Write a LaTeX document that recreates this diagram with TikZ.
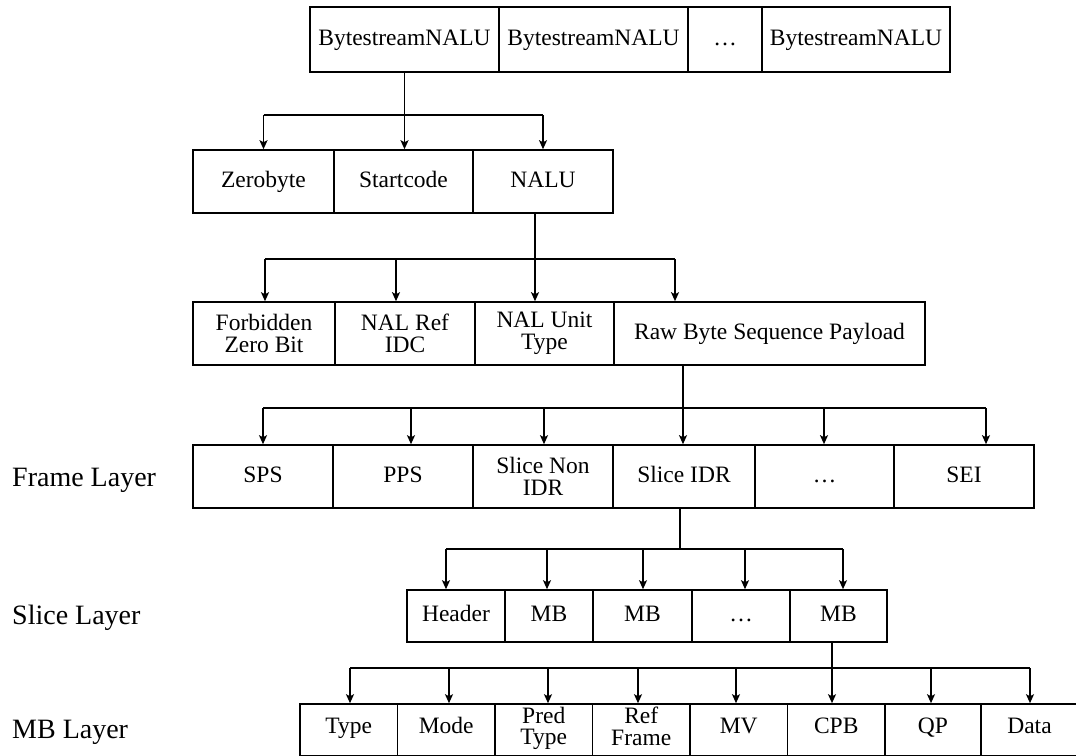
\documentclass[tikz,border=0pt]{standalone}
\usepackage{fontspec}
\setmainfont{Liberation Serif}
\usetikzlibrary{arrows.meta}
\begin{document}
\begin{tikzpicture}[x=1pt,y=-1pt,
  cell/.style={draw,line width=1.6pt,rectangle,inner sep=0pt,
    text height=16.5pt,text depth=5pt,
    font=\fontsize{23.5}{19}\selectfont},
  twoline/.style={draw,line width=1.6pt,rectangle,inner sep=0pt,align=center,
    font=\fontsize{23.5}{21.5}\selectfont},
  low/.style={text depth=9pt},
  wh/.style 2 args={minimum width=#1pt,minimum height=#2pt},
  ln/.style={line width=1.6pt},
  arr/.style={line width=1.6pt,-{Stealth[length=9pt,width=8pt,inset=2pt]}},
  layer/.style={anchor=west,inner sep=0pt,font=\fontsize{28}{30}\selectfont}]
\useasboundingbox (0,0) rectangle (1076,755);
\clip (0,0) rectangle (1076,755);

% Row 1
\node[cell,wh={189}{65}] (r1a) at (404.5,39.5) {BytestreamNALU};
\node[cell,wh={189}{65}] (r1b) at (593.5,39.5) {BytestreamNALU};
\node[cell,wh={74}{65}]  (r1c) at (725,39.5) {\ldots};
\node[cell,wh={188}{65}] (r1d) at (856,39.5) {BytestreamNALU};

% Row 2
\node[cell,wh={141}{63}] (zero)  at (263.5,181.5) {Zerobyte};
\node[cell,wh={139}{63}] (start) at (403.5,181.5) {Startcode};
\node[cell,wh={140}{63}] (nalu)  at (543,181.5) {NALU};

% Row 3
\node[twoline,wh={142}{63}] (fzb)  at (264,333.5) {Forbidden\\Zero Bit};
\node[twoline,wh={140}{63}] (nri)  at (405,333.5) {NAL Ref\\IDC};
\node[twoline,wh={139}{63}] (nut)  at (544.5,333.5) {NAL Unit\\Type};
\node[cell,wh={311}{63}] (rbsp) at (769.5,333.5) {Raw Byte Sequence Payload};

% Row 4
\node[cell,wh={140}{63}] (sps)   at (263,476.5) {SPS};
\node[cell,wh={140}{63}] (pps)   at (403,476.5) {PPS};
\node[twoline,wh={140}{63}] (snon)  at (543,476.5) {Slice Non\\IDR};
\node[cell,wh={142}{63}] (sidr)  at (684,476.5) {Slice IDR};
\node[cell,wh={139}{63}] (fdots) at (824.5,476.5) {\ldots};
\node[cell,wh={140}{63}] (sei)   at (964,476.5) {SEI};

% Row 5
\node[cell,wh={98}{52}] (hdr)   at (456,616) {Header};
\node[cell,wh={88}{52}] (mb1)   at (549,616) {MB};
\node[cell,wh={99}{52}] (mb2)   at (642.5,616) {MB};
\node[cell,wh={98}{52}] (sdots) at (741,616) {\ldots};
\node[cell,wh={97}{52}] (mb3)   at (838.5,616) {MB};

% Row 6
\node[cell,low,wh={97.5}{52}] (type) at (348.75,730) {Type};
\node[cell,low,wh={97.5}{52}] (mode) at (446.25,730) {Mode};
\node[twoline,wh={97.5}{52},text depth=8pt] (pred) at (543.75,730) {Pred\\Type};
\node[twoline,wh={97.5}{52},text depth=8pt] (refr) at (641.25,730) {Ref\\Frame};
\node[cell,low,wh={97.5}{52}] (mv)   at (738.75,730) {MV};
\node[cell,low,wh={97.5}{52}] (cpb)  at (836.25,730) {CPB};
\node[cell,low,wh={96}{52}]   (qp)   at (933,730) {QP};
\node[cell,low,wh={97}{52}]   (data) at (1029.5,730) {Data};

% Layer labels
\node[layer] (lf) at (12,480) {Frame Layer};
\node[layer] (ls) at (12,618) {Slice Layer};
\node[layer] (lm) at (12,732) {MB Layer};

% Connectors 1 -> 2
\coordinate (a21) at (263.5,115);
\coordinate (a22) at (404.5,115);
\coordinate (a23) at (543,115);
\draw[ln] (r1a.south) -- (a22);
\draw[ln] (a21) -- (a23);
\draw[arr] (a21) -- (a21 |- zero.north);
\draw[arr] (a22) -- (a22 |- start.north);
\draw[arr] (a23) -- (a23 |- nalu.north);

% Connectors 2 -> 3
\coordinate (a31) at (265,259);
\coordinate (a32) at (396,259);
\coordinate (a33) at (535,259);
\coordinate (a34) at (675,259);
\draw[ln] (a33 |- nalu.south) -- (a33);
\draw[ln] (a31) -- (a34);
\draw[arr] (a31) -- (a31 |- fzb.north);
\draw[arr] (a32) -- (a32 |- nri.north);
\draw[arr] (a33) -- (a33 |- nut.north);
\draw[arr] (a34) -- (a34 |- rbsp.north);

% Connectors 3 -> 4
\coordinate (a41) at (263,408);
\coordinate (a42) at (411,408);
\coordinate (a43) at (544,408);
\coordinate (a44) at (683,408);
\coordinate (a45) at (824,408);
\coordinate (a46) at (986,408);
\draw[ln] (a44 |- rbsp.south) -- (a44);
\draw[ln] (a41) -- (a46);
\draw[arr] (a41) -- (a41 |- sps.north);
\draw[arr] (a42) -- (a42 |- pps.north);
\draw[arr] (a43) -- (a43 |- snon.north);
\draw[arr] (a44) -- (a44 |- sidr.north);
\draw[arr] (a45) -- (a45 |- fdots.north);
\draw[arr] (a46) -- (a46 |- sei.north);

% Connectors 4 -> 5
\coordinate (t5) at (680,549);
\coordinate (a51) at (446,549);
\coordinate (a52) at (547,549);
\coordinate (a53) at (643,549);
\coordinate (a54) at (745,549);
\coordinate (a55) at (843,549);
\draw[ln] (t5 |- sidr.south) -- (t5);
\draw[ln] (a51) -- (a55);
\draw[arr] (a51) -- (a51 |- hdr.north);
\draw[arr] (a52) -- (a52 |- mb1.north);
\draw[arr] (a53) -- (a53 |- mb2.north);
\draw[arr] (a54) -- (a54 |- sdots.north);
\draw[arr] (a55) -- (a55 |- mb3.north);

% Connectors 5 -> 6
\coordinate (a61) at (350,668);
\coordinate (a62) at (449,668);
\coordinate (a63) at (548,668);
\coordinate (a64) at (638,668);
\coordinate (a65) at (736,668);
\coordinate (a66) at (832,668);
\coordinate (a67) at (931,668);
\coordinate (a68) at (1030,668);
\draw[ln] (a66 |- mb3.south) -- (a66);
\draw[ln] (a61) -- (a68);
\draw[arr] (a61) -- (a61 |- type.north);
\draw[arr] (a62) -- (a62 |- mode.north);
\draw[arr] (a63) -- (a63 |- pred.north);
\draw[arr] (a64) -- (a64 |- refr.north);
\draw[arr] (a65) -- (a65 |- mv.north);
\draw[arr] (a66) -- (a66 |- cpb.north);
\draw[arr] (a67) -- (a67 |- qp.north);
\draw[arr] (a68) -- (a68 |- data.north);
\end{tikzpicture}
\end{document}
